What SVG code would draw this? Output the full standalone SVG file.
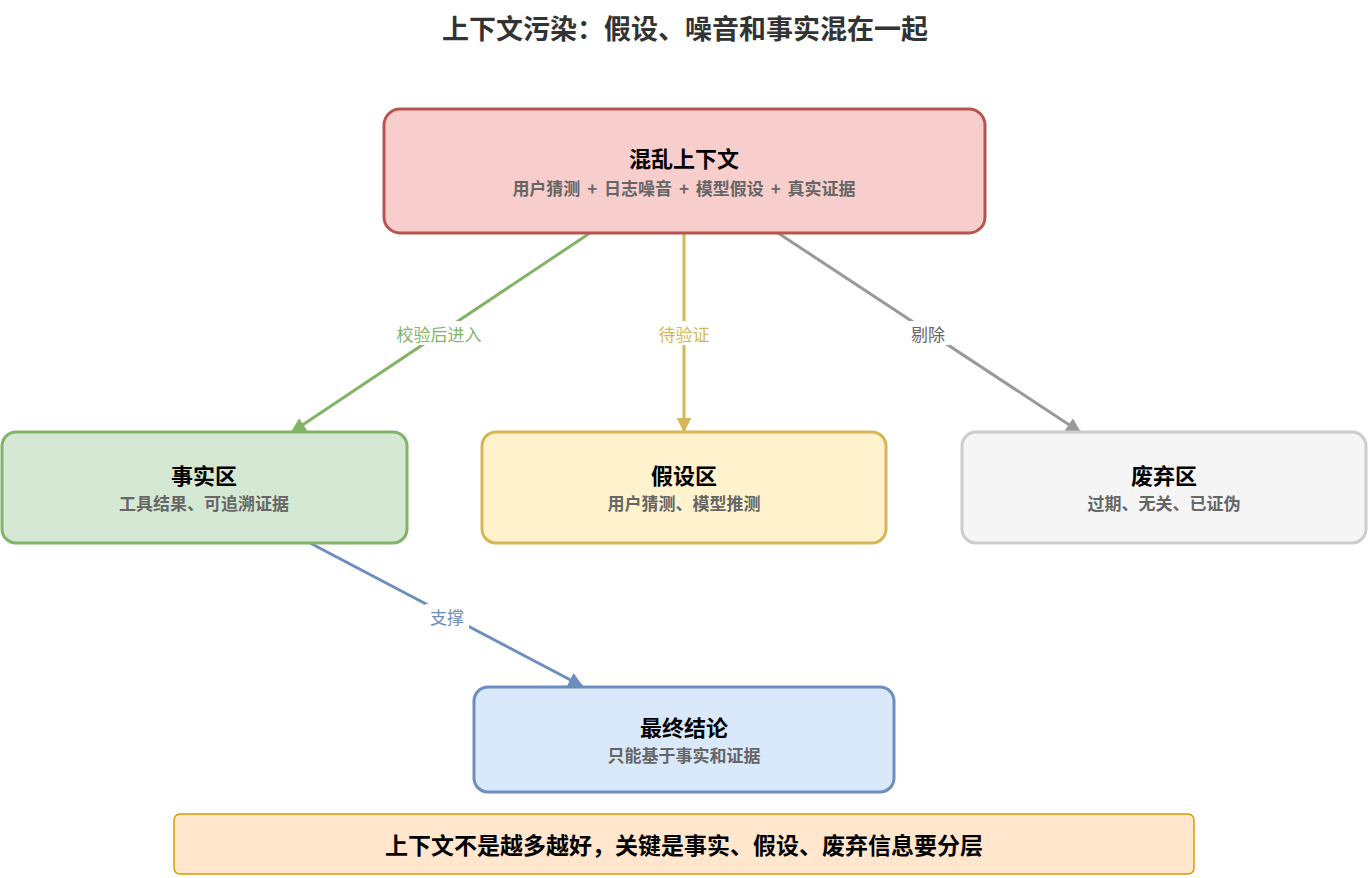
<svg xmlns="http://www.w3.org/2000/svg" width="1370" height="878" viewBox="0 0 1370 878">
<style>
text{font-family:"Noto Sans CJK SC","Liberation Sans",sans-serif;text-anchor:middle;dominant-baseline:central}
.t{font-size:22px;font-weight:bold;fill:#000}
.s{font-size:17px;font-weight:bold;fill:#666}
.l{font-size:17px}
.bg{fill:#fff}
</style>
<defs>
<marker id="ag" viewBox="0 0 10 10" refX="9" refY="5" markerWidth="5" markerHeight="5" orient="auto"><path d="M0,0L10,5L0,10z" fill="#82b366"/></marker>
<marker id="ay" viewBox="0 0 10 10" refX="9" refY="5" markerWidth="5" markerHeight="5" orient="auto"><path d="M0,0L10,5L0,10z" fill="#d6b656"/></marker>
<marker id="ar" viewBox="0 0 10 10" refX="9" refY="5" markerWidth="5" markerHeight="5" orient="auto"><path d="M0,0L10,5L0,10z" fill="#999"/></marker>
<marker id="ab" viewBox="0 0 10 10" refX="9" refY="5" markerWidth="5" markerHeight="5" orient="auto"><path d="M0,0L10,5L0,10z" fill="#6c8ebf"/></marker>
</defs>
<rect width="1370" height="878" fill="#fff"/>
<text x="685" y="27" style="font-size:27px;font-weight:bold;fill:#333">上下文污染：假设、噪音和事实混在一起</text>
<g id="connectors" stroke-width="3" fill="none">
<line x1="590" y1="233" x2="292" y2="432" stroke="#82b366" marker-end="url(#ag)"/>
<line x1="684" y1="233" x2="684" y2="431" stroke="#d6b656" marker-end="url(#ay)"/>
<line x1="778" y1="233" x2="1080" y2="432" stroke="#999" marker-end="url(#ar)"/>
<line x1="310" y1="543" x2="582" y2="686" stroke="#6c8ebf" marker-end="url(#ab)"/>
<rect class="bg" x="390" y="321" width="98" height="24" stroke="none"/>
<rect class="bg" x="652" y="321" width="64" height="24" stroke="none"/>
<rect class="bg" x="906" y="321" width="44" height="24" stroke="none"/>
<rect class="bg" x="425" y="604" width="44" height="24" stroke="none"/>
<text class="l" x="439" y="333" fill="#82b366" stroke="none">校验后进入</text>
<text class="l" x="684" y="333" fill="#d6b656" stroke="none">待验证</text>
<text class="l" x="928" y="333" fill="#666" stroke="none">剔除</text>
<text class="l" x="447" y="616" fill="#6c8ebf" stroke="none">支撑</text>
</g>
<g id="mixed"><rect x="384" y="109" width="601" height="124" rx="16" fill="#f8cecc" stroke="#b85450" stroke-width="3"/>
<text class="t" x="684" y="157">混乱上下文</text><text class="s" x="684" y="187" word-spacing="3">用户猜测 + 日志噪音 + 模型假设 + 真实证据</text></g>
<g id="fact"><rect x="2" y="432" width="405" height="111" rx="14" fill="#d5e8d4" stroke="#82b366" stroke-width="3"/>
<text class="t" x="204" y="474">事实区</text><text class="s" x="204" y="502">工具结果、可追溯证据</text></g>
<g id="hypo"><rect x="482" y="432" width="404" height="111" rx="14" fill="#fff2cc" stroke="#d6b656" stroke-width="3"/>
<text class="t" x="684" y="474">假设区</text><text class="s" x="684" y="502">用户猜测、模型推测</text></g>
<g id="discard"><rect x="962" y="432" width="404" height="111" rx="14" fill="#f5f5f5" stroke="#cccccc" stroke-width="3"/>
<text class="t" x="1164" y="474">废弃区</text><text class="s" x="1164" y="502">过期、无关、已证伪</text></g>
<g id="final"><rect x="474" y="687" width="420" height="105" rx="14" fill="#dae8fc" stroke="#6c8ebf" stroke-width="3"/>
<text class="t" x="684" y="726">最终结论</text><text class="s" x="684" y="754">只能基于事实和证据</text></g>
<g id="banner"><rect x="174" y="814" width="1020" height="60" rx="6" fill="#ffe6cc" stroke="#d79b00" stroke-width="1.5"/>
<text x="684" y="844" style="font-size:23px;font-weight:bold;fill:#000">上下文不是越多越好，关键是事实、假设、废弃信息要分层</text></g>
</svg>
